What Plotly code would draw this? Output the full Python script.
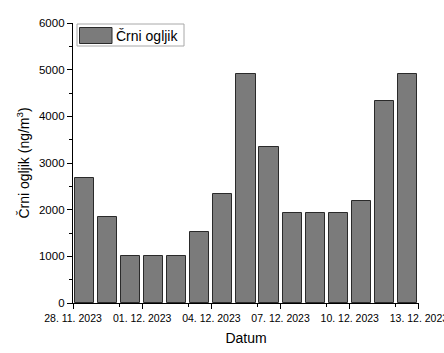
import plotly.graph_objects as go

dates = ["2023-11-28", "2023-11-29", "2023-11-30", "2023-12-01", "2023-12-02",
         "2023-12-03", "2023-12-04", "2023-12-05", "2023-12-06", "2023-12-07",
         "2023-12-08", "2023-12-09", "2023-12-10", "2023-12-11", "2023-12-12"]
values = [2680, 1835, 1015, 1015, 1015, 1520, 2335, 4905, 3335, 1930,
          1930, 1930, 2190, 4320, 4905]
series_name = "Črni ogljik"

DAY = 86400000
x_centers = [d + " 12:00" for d in dates]
BAR_COLOR = "#7b7b7b"
EDGE_COLOR = "#2a2a2a"

# plot area in pixels (for converting legend decoration to paper coords)
W, H = 444, 353
ML, MR, MT, MB = 73, 25, 23, 50
PW, PH = W - ML - MR, H - MT - MB


def px(x):
    return (x - ML) / PW


def py(y):
    return (H - MB - y) / PH


fig = go.Figure()
fig.add_trace(go.Bar(
    x=x_centers, y=values, name=series_name,
    width=[0.83 * DAY] * len(values),
    marker=dict(color=BAR_COLOR, line=dict(color=EDGE_COLOR, width=1)),
    showlegend=False,
))
# legend entry (swatch blends into the large drawn swatch)
fig.add_trace(go.Bar(
    x=[None], y=[None], name=series_name,
    marker=dict(color=BAR_COLOR, line=dict(width=0)),
    showlegend=True,
))

font = "Liberation Sans, Arial, sans-serif"

shapes = [
    # legend frame
    dict(type="rect", xref="paper", yref="paper",
         x0=px(77), x1=px(184), y0=py(46), y1=py(24),
         line=dict(color="#a8a8a8", width=1), fillcolor="white", layer="below"),
    # big swatch
    dict(type="rect", xref="paper", yref="paper",
         x0=px(79.5), x1=px(112), y0=py(43.5), y1=py(27.5),
         line=dict(color=EDGE_COLOR, width=1), fillcolor=BAR_COLOR, layer="below"),
]

fig.update_layout(
    width=W, height=H,
    margin=dict(l=ML, r=MR, t=MT, b=MB, autoexpand=False),
    plot_bgcolor="rgba(0,0,0,0)", paper_bgcolor="white",
    font=dict(family=font, color="black", size=10),
    bargap=0,
    showlegend=True,
    shapes=shapes,
    legend=dict(
        x=px(76), y=py(19.5), xanchor="left", yanchor="top",
        bgcolor="rgba(0,0,0,0)", borderwidth=0,
        font=dict(size=14, family=font), itemwidth=30,
        tracegroupgap=0,
    ),
    xaxis=dict(
        type="date",
        automargin=False,
        range=["2023-11-28", "2023-12-13 00:05"],
        tick0="2023-11-28", dtick=3 * DAY,
        tickformat="%d. %m. %Y",
        ticklabeloverflow="allow",
        showgrid=False, zeroline=False,
        showline=True, linecolor="black", linewidth=1.3,
        ticks="outside", ticklen=5, tickwidth=1.3, tickcolor="black",
        tickfont=dict(size=10.5, family=font),
        minor=dict(tick0="2023-11-30", dtick=3 * DAY, ticks="outside",
                   ticklen=3, tickwidth=1, tickcolor="black", showgrid=False),
        title=dict(text="Datum", font=dict(size=14, family=font), standoff=10),
    ),
    yaxis=dict(
        range=[0, 6000],
        automargin=False,
        tickvals=[0, 1000, 2000, 3000, 4000, 5000, 6000],
        showgrid=False, zeroline=False,
        showline=True, linecolor="black", linewidth=1.3,
        ticks="outside", ticklen=5, tickwidth=1.3, tickcolor="black",
        tickfont=dict(size=11.5, family=font),
        minor=dict(dtick=500, ticks="outside", ticklen=3, tickwidth=1,
                   tickcolor="black", showgrid=False),
        title=dict(text="Črni ogljik (ng/m<sup>3</sup>)",
                   font=dict(size=14, family=font), standoff=6),
    ),
)

fig.write_html("out.html")
